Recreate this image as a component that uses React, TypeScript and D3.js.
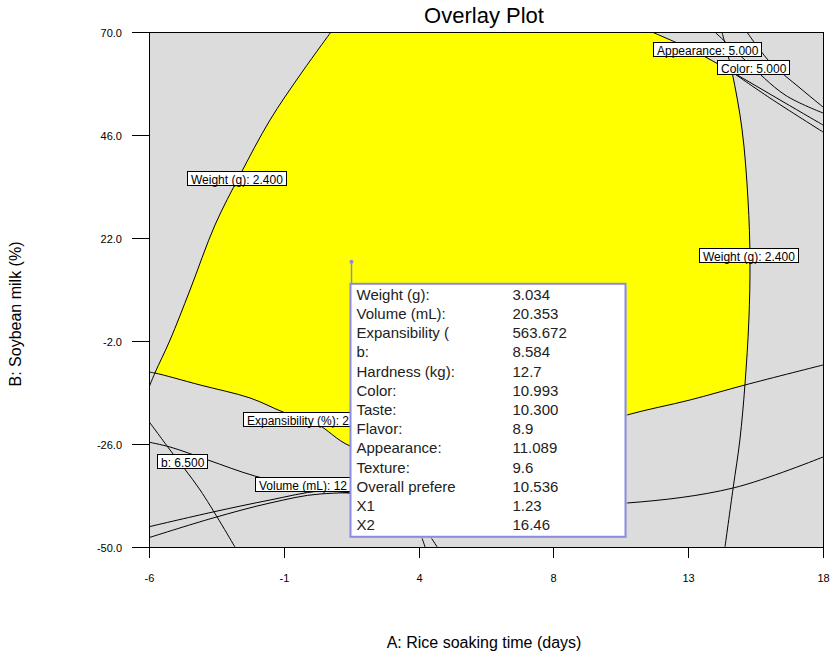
import React, { useEffect, useRef } from "react";
import * as d3 from "d3";

type P = [number, number];

const W = 833;
const H = 659;
const PLOT = { left: 149, top: 32, right: 823, bottom: 547 };

const xDomain: P = [-6, 18];
const yDomain: P = [-50, 70];
const xTickValues = [-6, -1.2, 3.6, 8.4, 13.2, 18];
const xTickLabels = ["-6", "-1", "4", "8", "13", "18"];
const yTickValues = [-50, -26, -2, 22, 46, 70];
const yTickLabels = ["-50.0", "-26.0", "-2.0", "22.0", "46.0", "70.0"];

// contour curves (data units: A = rice soaking time, B = soybean milk)
const weightLeft: P[] = [
  [0.48, 70], [-0.62, 60.0], [-1.69, 49.5], [-2.76, 36.68], [-3.65, 25.03],
  [-4.54, 9.88], [-5.25, -1.77], [-5.79, -9.46], [-6.04, -13.42],
];
const weightRight: P[] = [
  [14.40, 70], [14.76, 60.68], [15.12, 47.17], [15.33, 30.85], [15.40, 16.87],
  [15.36, 2.89], [15.22, -12.25], [15.04, -25.07], [14.80, -36.25], [14.51, -50],
];
const expansibility: P[] = [
  [-6.04, -9.22], [-5.79, -9.46], [-4.18, -12.25], [-2.40, -15.28], [-1.23, -18.54],
  [-0.02, -21.34], [1.16, -26.47], [3.65, -30.19], [6.50, -28.56], [8.63, -24.37],
  [11.02, -19.24], [13.26, -15.75], [15.22, -12.25], [18, -7.59],
];
const appearance1: P[] = [[11.91, 70], [13.34, 65.81], [14.76, 60.68], [16.47, 54.16], [18, 48.33]];
const appearance2: P[] = [[14.15, 70], [15.22, 63.48], [16.65, 55.32], [18, 51.13]];
const color1: P[] = [[15.29, 70], [16.11, 63.01], [17.18, 56.95], [18, 52.52]];
const color2: P[] = [[14.76, 60.68], [16.11, 54.62], [18, 46.70]];
const hardness: P[] = [[-6.04, -20.41], [-5.25, -27.40], [-4.18, -36.72], [-2.94, -50]];
const bCurve: P[] = [
  [-6.04, -25.53], [-5.25, -26.70], [-3.90, -29.73], [-2.23, -33.46], [-0.62, -35.79],
  [1.16, -37.42], [5.79, -40.21], [11.02, -39.75], [14.80, -36.25], [18, -29.03],
];
const volume1: P[] = [
  [-6.04, -45.34], [-3.72, -41.84], [-1.69, -39.05], [0.09, -36.95], [1.87, -37.18],
  [3.29, -42.54], [3.83, -50],
];
const volume2: P[] = [
  [-6.04, -47.90], [-3.72, -43.24], [-1.69, -39.75], [0.09, -37.65], [2.05, -38.12],
  [3.47, -43.24], [4.26, -50],
];

// overlay (feasible) region boundary
const feasibleRegion: P[] = [
  [0.48, 70], [-0.62, 60.0], [-1.69, 49.5], [-2.76, 36.68], [-3.65, 25.03],
  [-4.54, 9.88], [-5.25, -1.77], [-5.79, -9.46],
  [-4.18, -12.25], [-2.40, -15.28], [-1.23, -18.54], [-0.02, -21.34], [1.16, -26.47],
  [3.65, -30.19], [6.50, -28.56], [8.63, -24.37], [11.02, -19.24], [13.26, -15.75],
  [15.22, -12.25], [15.36, 2.89], [15.40, 16.87], [15.33, 30.85], [15.12, 47.17],
  [14.76, 60.68], [13.34, 65.81], [11.91, 70],
];

// contour labels: text (as visible), left-edge x, center y (data units), hidden-by-tooltip flag
const labelTexts = [
  "Appearance: 5.000", "Color: 5.000", "Weight (g): 2.400", "Weight (g): 2.400",
  "Expansibility (%): 2", "b: 6.500", "Volume (mL): 12",
];
const labelX = [11.95, 14.23, -4.65, 13.58, -2.65, -5.72, -2.23];
const labelY = [65.92, 61.50, 35.75, 17.81, -20.41, -30.08, -35.44];
const labelCut = [false, false, false, false, true, false, true];

// flagged point and its prediction table
const flagPoint: P = [1.23, 16.46];
const tipLabels = [
  "Weight (g):", "Volume (mL):", "Expansibility (", "b:", "Hardness (kg):", "Color:",
  "Taste:", "Flavor:", "Appearance:", "Texture:", "Overall prefere", "X1", "X2",
];
const tipValues = [
  "3.034", "20.353", "563.672", "8.584", "12.7", "10.993",
  "10.300", "8.9", "11.089", "9.6", "10.536", "1.23", "16.46",
];

const FONT = "'Liberation Sans', Arial, Helvetica, sans-serif";

export default function App() {
  const ref = useRef<SVGSVGElement>(null);

  useEffect(() => {
    const svg = d3.select(ref.current);
    svg.selectAll("*").remove();

    const x = d3.scaleLinear().domain(xDomain).range([PLOT.left, PLOT.right]);
    const y = d3.scaleLinear().domain(yDomain).range([PLOT.bottom, PLOT.top]);

    svg.append("rect").attr("width", W).attr("height", H).attr("fill", "#ffffff");

    const defs = svg.append("defs");
    defs.append("clipPath").attr("id", "plotclip")
      .append("rect")
      .attr("x", PLOT.left).attr("y", PLOT.top)
      .attr("width", PLOT.right - PLOT.left).attr("height", PLOT.bottom - PLOT.top);

    svg.append("rect")
      .attr("x", PLOT.left).attr("y", PLOT.top)
      .attr("width", PLOT.right - PLOT.left).attr("height", PLOT.bottom - PLOT.top)
      .attr("fill", "#dcdcdc");

    const g = svg.append("g").attr("clip-path", "url(#plotclip)");

    const line = d3.line<P>().x((d) => x(d[0])).y((d) => y(d[1])).curve(d3.curveCatmullRom.alpha(0.5));
    const area = d3.line<P>().x((d) => x(d[0])).y((d) => y(d[1])).curve(d3.curveLinearClosed);

    g.append("path").attr("d", area(feasibleRegion) as string).attr("fill", "#ffff00").attr("stroke", "none");

    const curves = [weightLeft, weightRight, expansibility, appearance1, appearance2, color1, color2,
      hardness, bCurve, volume1, volume2];
    g.selectAll("path.contour").data(curves).enter().append("path")
      .attr("class", "contour")
      .attr("d", (d) => line(d) as string)
      .attr("fill", "none").attr("stroke", "#000").attr("stroke-width", 1);

    // contour labels
    labelTexts.forEach((t, i) => {
      const lg = g.append("g");
      const rect = lg.append("rect");
      const lx = Math.round(x(labelX[i])) + 0.5;
      const ly = Math.round(y(labelY[i]));
      const tx = lg.append("text")
        .attr("x", lx + 3.5)
        .attr("y", ly + 4.5)
        .attr("font-family", FONT).attr("font-size", 12).attr("fill", "#000")
        .text(t);
      const w = (tx.node() as SVGTextElement).getComputedTextLength();
      rect.attr("x", lx).attr("y", ly - 7.5)
        .attr("width", Math.round(w) + (labelCut[i] ? 30 : 7)).attr("height", 14)
        .attr("fill", "#fff").attr("stroke", "#000").attr("stroke-width", 1);
    });

    // border
    svg.append("rect")
      .attr("x", PLOT.left + 0.5).attr("y", PLOT.top + 0.5)
      .attr("width", PLOT.right - PLOT.left).attr("height", PLOT.bottom - PLOT.top)
      .attr("fill", "none").attr("stroke", "#000").attr("stroke-width", 1);

    // x ticks
    xTickValues.forEach((v, i) => {
      const px = Math.round(x(v)) + 0.5;
      svg.append("line").attr("x1", px).attr("x2", px)
        .attr("y1", PLOT.bottom).attr("y2", PLOT.bottom + 11).attr("stroke", "#000");
      svg.append("text").attr("x", px).attr("y", PLOT.bottom + 35)
        .attr("text-anchor", "middle").attr("font-family", FONT).attr("font-size", 11)
        .attr("fill", "#000").text(xTickLabels[i]);
    });
    // y ticks
    yTickValues.forEach((v, i) => {
      const py = Math.round(y(v)) + 0.5;
      svg.append("line").attr("x1", PLOT.left - 17).attr("x2", PLOT.left)
        .attr("y1", py).attr("y2", py).attr("stroke", "#000");
      svg.append("text").attr("x", PLOT.left - 27).attr("y", py + 4)
        .attr("text-anchor", "end").attr("font-family", FONT).attr("font-size", 11)
        .attr("fill", "#000").text(yTickLabels[i]);
    });

    // titles
    svg.append("text").attr("x", 484).attr("y", 23).attr("text-anchor", "middle")
      .attr("font-family", FONT).attr("font-size", 22).attr("fill", "#000").text("Overlay Plot");
    svg.append("text").attr("x", 484).attr("y", 648).attr("text-anchor", "middle")
      .attr("font-family", FONT).attr("font-size", 16).attr("fill", "#000").text("A: Rice soaking time (days)");
    svg.append("text").attr("transform", "translate(21,314) rotate(-90)").attr("text-anchor", "middle")
      .attr("font-family", FONT).attr("font-size", 16).attr("fill", "#000").text("B: Soybean milk (%)");

    // flag + tooltip
    const fx = Math.round(x(flagPoint[0])) - 0.5;
    const fy = y(flagPoint[1]);
    const boxL = fx - 1;
    const boxT = fy + 22;
    const boxW = 275;
    const boxH = 253;
    svg.append("line").attr("x1", fx).attr("x2", fx).attr("y1", fy).attr("y2", boxT)
      .attr("stroke", "#8c8cc8").attr("stroke-width", 1.5);
    svg.append("circle").attr("cx", fx).attr("cy", fy).attr("r", 2).attr("fill", "#8c8cc8");
    svg.append("rect").attr("x", boxL + 2).attr("y", boxT + 2).attr("width", boxW).attr("height", boxH)
      .attr("fill", "#d8d8c8").attr("opacity", 0.6);
    svg.append("rect").attr("x", boxL).attr("y", boxT).attr("width", boxW).attr("height", boxH)
      .attr("fill", "#fff").attr("stroke", "#8a8ae6").attr("stroke-width", 2);
    tipLabels.forEach((t, i) => {
      const by = boxT + 16 + i * 19.2;
      svg.append("text").attr("x", boxL + 6).attr("y", by).attr("font-family", FONT)
        .attr("font-size", 15).attr("fill", "#222").text(t);
      svg.append("text").attr("x", boxL + 162).attr("y", by).attr("font-family", FONT)
        .attr("font-size", 15).attr("fill", "#222").text(tipValues[i]);
    });
  }, []);

  return (
    <svg
      ref={ref}
      width={W}
      height={H}
      style={{ position: "absolute", left: 0, top: 0, display: "block" }}
    />
  );
}
